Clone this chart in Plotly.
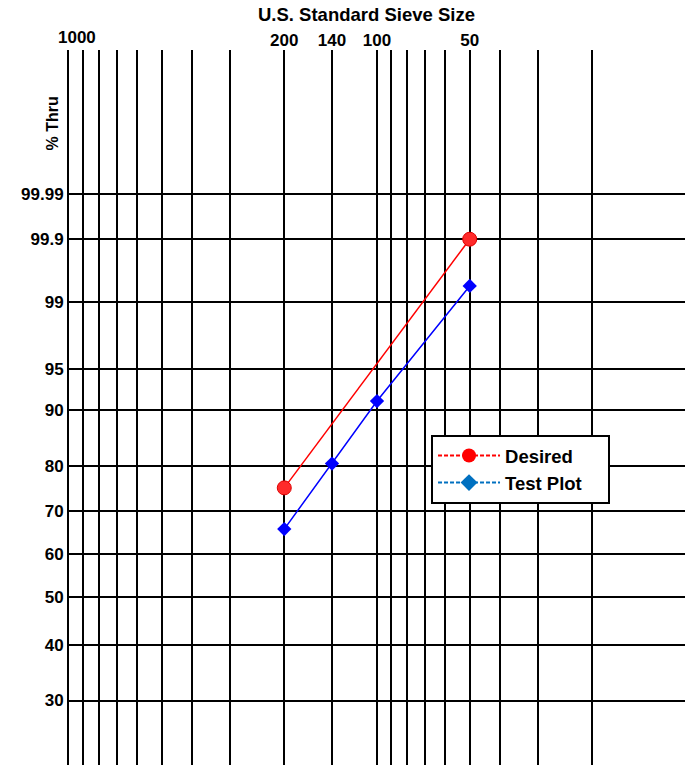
import numpy as np
import plotly.graph_objects as go

# Sieve mesh numbers (U.S. Standard) and cumulative percent passing
desired_mesh = [200, 50]
desired_pct = [75.3, 99.9]

test_mesh = [200, 140, 100, 50]
test_pct = [65.8, 80.5, 91.3, 99.4]

# Vertical grid lines (mesh numbers) and the ones carrying a label
grid_mesh = [1000, 900, 800, 700, 600, 500, 400, 300, 200, 140,
             100, 90, 80, 70, 60, 50, 40, 30, 20]
labeled_mesh = {200: "200", 140: "140", 100: "100", 50: "50"}

# Horizontal grid lines (% passing) on the Rosin-Rammler scale
pct_ticks = [30, 40, 50, 60, 70, 80, 90, 95, 99, 99.9, 99.99]
pct_text = ["30", "40", "50", "60", "70", "80", "90", "95", "99", "99.9", "99.99"]


def rr(p):
    """Rosin-Rammler transform: ln(-ln(1 - P))."""
    p = np.asarray(p, dtype=float) / 100.0
    return np.log(-np.log(1.0 - p))


FONT = "Liberation Sans, Arial, sans-serif"
PAD = "\u00a0" * 4  # right-hand breathing room inside the legend box

fig = go.Figure()

# Data series
fig.add_trace(go.Scatter(
    x=desired_mesh, y=rr(desired_pct), mode="lines+markers",
    line=dict(color="#ff0000", width=1.5),
    marker=dict(symbol="circle", size=14, color="#ff2a2a",
                line=dict(color="#e00000", width=1)),
    showlegend=False, name="Desired"))
fig.add_trace(go.Scatter(
    x=test_mesh, y=rr(test_pct), mode="lines+markers",
    line=dict(color="#0000ff", width=1.5),
    marker=dict(symbol="diamond", size=11, color="#0000ff"),
    showlegend=False, name="Test Plot"))

# Legend entries (dashed style)
fig.add_trace(go.Scatter(
    x=[None], y=[None], mode="lines+markers", name="Desired" + PAD,
    line=dict(color="#ff0000", width=2, dash="4px,2px"),
    marker=dict(symbol="circle", size=14, color="#ff0000")))
fig.add_trace(go.Scatter(
    x=[None], y=[None], mode="lines+markers", name="Test Plot" + PAD,
    line=dict(color="#0070c0", width=2, dash="4px,2px"),
    marker=dict(symbol="diamond", size=13, color="#0070c0")))

fig.update_xaxes(
    type="log", range=[3, 1], side="top",
    tickmode="array", tickvals=grid_mesh,
    ticktext=[labeled_mesh.get(m, "") for m in grid_mesh],
    showgrid=True, gridcolor="#000000", gridwidth=1.6,
    showline=False, zeroline=False, ticks="",
    tickfont=dict(family=FONT, size=17, color="#000000", weight="bold"),
)
fig.update_yaxes(
    range=[-1.445, 3.148],
    tickmode="array", tickvals=rr(pct_ticks), ticktext=pct_text,
    showgrid=True, gridcolor="#000000", gridwidth=1.8,
    showline=True, linecolor="#000000", linewidth=2,
    zeroline=False, ticks="",
    tickfont=dict(family=FONT, size=17, color="#000000", weight="bold"),
)

fig.add_annotation(
    text="1000", x=3, xref="x", xshift=8, y=1, yref="paper", yshift=12.5,
    xanchor="center", yanchor="middle", showarrow=False,
    font=dict(family=FONT, size=17, color="#000000", weight="bold"))
fig.add_annotation(
    text="U.S. Standard Sieve Size", x=0.4833, xref="paper", y=1, yref="paper",
    yshift=35.5, xanchor="center", yanchor="middle", showarrow=False,
    font=dict(family=FONT, size=18.5, color="#000000", weight="bold"))
fig.add_annotation(
    text="% Thru", textangle=-90, x=-0.0268, xref="paper", y=0.8979, yref="paper",
    xanchor="center", yanchor="middle", showarrow=False,
    font=dict(family=FONT, size=16, color="#000000", weight="bold"))

fig.update_layout(
    width=687, height=765,
    margin=dict(l=69, r=2, t=50, b=0, pad=0),
    paper_bgcolor="#ffffff", plot_bgcolor="#ffffff",
    legend=dict(
        x=0.5877, y=0.4615, xanchor="left", yanchor="top",
        bgcolor="#ffffff", bordercolor="#000000", borderwidth=2,
        itemwidth=62, tracegroupgap=0,
        font=dict(family=FONT, size=18.5, color="#000000", weight="bold"),
    ),
)

fig.write_html("out.html")
